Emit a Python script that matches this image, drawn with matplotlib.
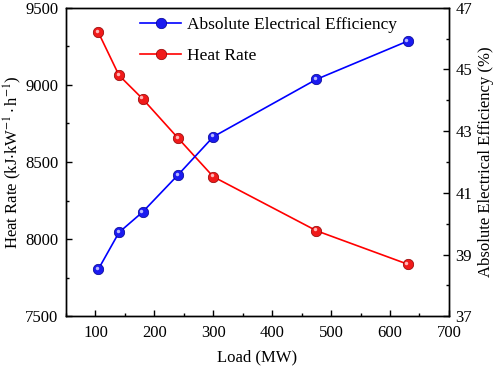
import matplotlib
matplotlib.use("Agg")
import matplotlib.pyplot as plt
from matplotlib.ticker import MultipleLocator, FixedLocator
from matplotlib.transforms import ScaledTranslation

plt.rcParams['font.family'] = ['Liberation Serif', 'DejaVu Serif']
plt.rcParams['mathtext.fontset'] = 'stix'
plt.rcParams['font.size'] = 12

load = [105, 140, 180, 240, 300, 475, 630]
heat_rate = [9340, 9062, 8910, 8656, 8405, 8055, 7838]
efficiency = [38.53, 39.72, 40.38, 41.58, 42.82, 44.68, 45.92]

hr_ticks = [7500, 8000, 8500, 9000, 9500]
eff_ticks = [37, 39, 41, 43, 45, 47]

fig = plt.figure(figsize=(4.98, 3.70), dpi=100)
ax = fig.add_axes([0.1325, 0.145, 0.769, 0.834])
ax2 = ax.twinx()

# small specular spot, up and to the left of each ball
hl = ScaledTranslation(-1.0 / 72, 1.0 / 72, fig.dpi_scale_trans)

l1, = ax2.plot(load, efficiency, color='#0000ff', lw=1.2, marker='o', ms=7.5,
               mfc='#1a1af0', mec='#000090', mew=0.5, label='Absolute Electrical Efficiency')
ax2.plot(load, efficiency, ls='none', marker='o', ms=2.5, mfc='#b8b8ff', mec='none',
         transform=ax2.transData + hl)
l2, = ax.plot(load, heat_rate, color='#ff0000', lw=1.2, marker='o', ms=7.5,
              mfc='#f01a1a', mec='#900000', mew=0.5, label='Heat Rate')
ax.plot(load, heat_rate, ls='none', marker='o', ms=2.5, mfc='#ffb8b8', mec='none',
        transform=ax.transData + hl)

ax.set_xlim(50, 700)
ax.set_ylim(7500, 9500)
ax2.set_ylim(37, 47)

ax.xaxis.set_major_locator(MultipleLocator(100))
ax.xaxis.set_minor_locator(MultipleLocator(50))
ax.yaxis.set_major_locator(FixedLocator(hr_ticks))
ax.yaxis.set_minor_locator(MultipleLocator(250))
ax2.yaxis.set_major_locator(FixedLocator(eff_ticks))
ax2.yaxis.set_minor_locator(MultipleLocator(1))

ax.tick_params(which='both', direction='in', top=False, right=False, width=1)
ax.tick_params(which='major', length=4)
ax.tick_params(which='minor', length=2.5)
ax.tick_params(axis='x', pad=6)
ax.tick_params(axis='y', pad=5.5)
ax2.tick_params(which='both', direction='in', width=1, pad=4.5)
ax2.tick_params(which='major', length=4)
ax2.tick_params(which='minor', length=2.5)

for a in (ax, ax2):
    for s in a.spines.values():
        s.set_linewidth(1)

ax.set_xlabel('Load (MW)', labelpad=6)
ax.set_ylabel('Heat Rate (kJ$\\cdot$kW$^{-1}\\cdot$h$^{-1}$)', labelpad=0.5)
ax2.set_ylabel('Absolute Electrical Efficiency (%)', labelpad=4)

ax2.legend([l1, l2], [l1.get_label(), l2.get_label()], loc='upper left',
           bbox_to_anchor=(0.152, 1.02), frameon=False, handlelength=2.4,
           labelspacing=0.85, handletextpad=0.3, fontsize=12.5)

fig.savefig('out.png', dpi=100)
